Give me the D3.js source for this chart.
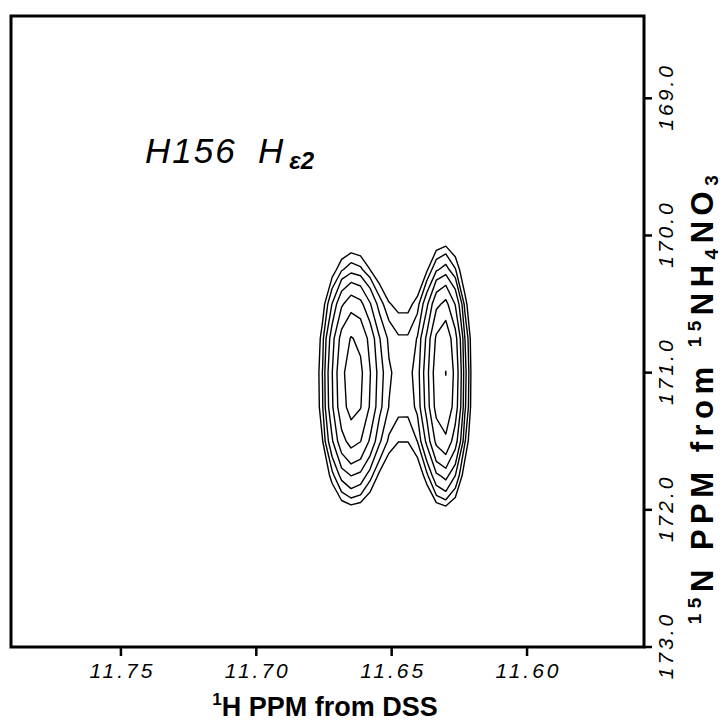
<!DOCTYPE html>
<html>
<head>
<meta charset="utf-8">
<script src="https://cdn.jsdelivr.net/npm/d3@7"></script>
<style>
  html, body { margin: 0; padding: 0; background: #fff; }
  svg { display: block; }
  .tick-label { font-family: "Liberation Sans", Arial, sans-serif; font-style: italic; font-size: 21px; letter-spacing: 3px; fill: #000; }
  .axis-title { font-family: "Liberation Sans", Arial, sans-serif; font-weight: bold; fill: #000; }
  .peak-label { font-family: "Liberation Sans", Arial, sans-serif; font-style: italic; fill: #000; }
</style>
</head>
<body>
<script>
// Axis ticks (ppm)
const hTicks = [11.75, 11.70, 11.65, 11.60];
const nTicks = [169.0, 170.0, 171.0, 172.0, 173.0];

// Cross-peak components: 1H shift, 15N shift, height, widths and line-shape exponents
const peakH      = [11.6650, 11.6304, 11.6478];
const peakN      = [171.055, 171.033, 171.030];
const peakAmp    = [6.3, 7.6, 1.5];
const peakWidthH = [0.0085, 0.0064, 0.0185];
const peakWidthN = [0.692, 0.692, 0.640];
const peakShapeH = [2, 2, 4];
const peakShapeN = [2.5, 2.5, 2.5];

// Contour levels (geometric, factor 1.35)
const levels = [1, 1.35, 1.82, 2.46, 3.32, 4.48, 6.05, 8.17];

// Spectrum digitisation grid
const gridH0 = 11.70, gridStepH = -0.0035, gridNH = 30;
const gridN0 = 169.25, gridStepN = 0.25, gridNN = 15;

const W = 722, H = 722;
const plot = { left: 11, top: 16, right: 644, bottom: 647 };

const x = d3.scaleLinear().domain([11.7906, 11.5568]).range([plot.left, plot.right]);
const y = d3.scaleLinear().domain([168.40, 173.0]).range([plot.top, plot.bottom]);

const svg = d3.select("body").append("svg").attr("width", W).attr("height", H);

// Build intensity grid from the peak components
const values = new Array(gridNH * gridNN);
for (let j = 0; j < gridNN; j++) {
  const n = gridN0 + j * gridStepN;
  for (let i = 0; i < gridNH; i++) {
    const h = gridH0 + i * gridStepH;
    let v = 0;
    for (let k = 0; k < peakH.length; k++) {
      const dh = Math.abs(h - peakH[k]) / peakWidthH[k];
      const dn = Math.abs(n - peakN[k]) / peakWidthN[k];
      v += peakAmp[k] * Math.exp(-Math.pow(dh, peakShapeH[k]) - Math.pow(dn, peakShapeN[k]));
    }
    values[j * gridNH + i] = v;
  }
}

const contours = d3.contours().size([gridNH, gridNN]).thresholds(levels)(values);

const toPlot = d3.geoTransform({
  point(gx, gy) {
    const h = gridH0 + (gx - 0.5) * gridStepH;
    const n = gridN0 + (gy - 0.5) * gridStepN;
    this.stream.point(x(h), y(n));
  }
});
const path = d3.geoPath(toPlot);

svg.append("g")
  .selectAll("path")
  .data(contours)
  .join("path")
  .attr("d", path)
  .attr("fill", "none")
  .attr("stroke", "#000")
  .attr("stroke-width", 1.4)
  .attr("stroke-linejoin", "round");

// Frame
svg.append("rect")
  .attr("x", plot.left).attr("y", plot.top)
  .attr("width", plot.right - plot.left).attr("height", plot.bottom - plot.top)
  .attr("fill", "none").attr("stroke", "#000").attr("stroke-width", 3);

// Bottom axis (1H)
const xAxis = svg.append("g");
xAxis.selectAll("line").data(hTicks).join("line")
  .attr("x1", d => x(d)).attr("x2", d => x(d))
  .attr("y1", plot.bottom).attr("y2", plot.bottom + 9)
  .attr("stroke", "#000").attr("stroke-width", 2.5);
xAxis.selectAll("text").data(hTicks).join("text")
  .attr("class", "tick-label")
  .attr("x", d => x(d) + 1.5).attr("y", 678)
  .attr("text-anchor", "middle")
  .text(d => d.toFixed(2));

// Right axis (15N)
const yAxis = svg.append("g");
yAxis.selectAll("line").data(nTicks).join("line")
  .attr("x1", plot.right).attr("x2", plot.right + 8)
  .attr("y1", d => y(d)).attr("y2", d => y(d))
  .attr("stroke", "#000").attr("stroke-width", 2.5);
yAxis.selectAll("text").data(nTicks).join("text")
  .attr("class", "tick-label")
  .attr("transform", d => `translate(673,${y(d) - 1.5}) rotate(-90)`)
  .attr("text-anchor", "middle")
  .text(d => d.toFixed(1));

// Axis titles
const xt = svg.append("text").attr("class", "axis-title")
  .attr("font-size", 27)
  .attr("x", 325).attr("y", 716).attr("text-anchor", "middle");
xt.append("tspan").attr("font-size", 17).attr("dy", -11).text("1");
xt.append("tspan").attr("dy", 11).text("H PPM from DSS");

const yt = svg.append("text").attr("class", "axis-title")
  .attr("font-size", 31).attr("letter-spacing", 5.5)
  .attr("transform", "translate(713,397) rotate(-90)")
  .attr("text-anchor", "middle");
yt.append("tspan").attr("font-size", 19).attr("dy", -12).text("15");
yt.append("tspan").attr("dy", 12).text("N PPM from ");
yt.append("tspan").attr("font-size", 19).attr("dy", -12).text("15");
yt.append("tspan").attr("dy", 12).text("NH");
yt.append("tspan").attr("font-size", 19).attr("dy", 5).text("4");
yt.append("tspan").attr("dy", -5).text("NO");
yt.append("tspan").attr("font-size", 19).attr("dy", 5).text("3");

// Resonance label
const lab = svg.append("text").attr("class", "peak-label").attr("x", 145).attr("y", 163);
lab.append("tspan").attr("font-size", 35).attr("letter-spacing", 2).text("H156");
lab.append("tspan").attr("font-size", 35).attr("x", 258).text("H");
lab.append("tspan").attr("font-size", 24).attr("font-weight", "bold").attr("dy", 6).attr("dx", 6).text("ε2");
</script>
</body>
</html>
